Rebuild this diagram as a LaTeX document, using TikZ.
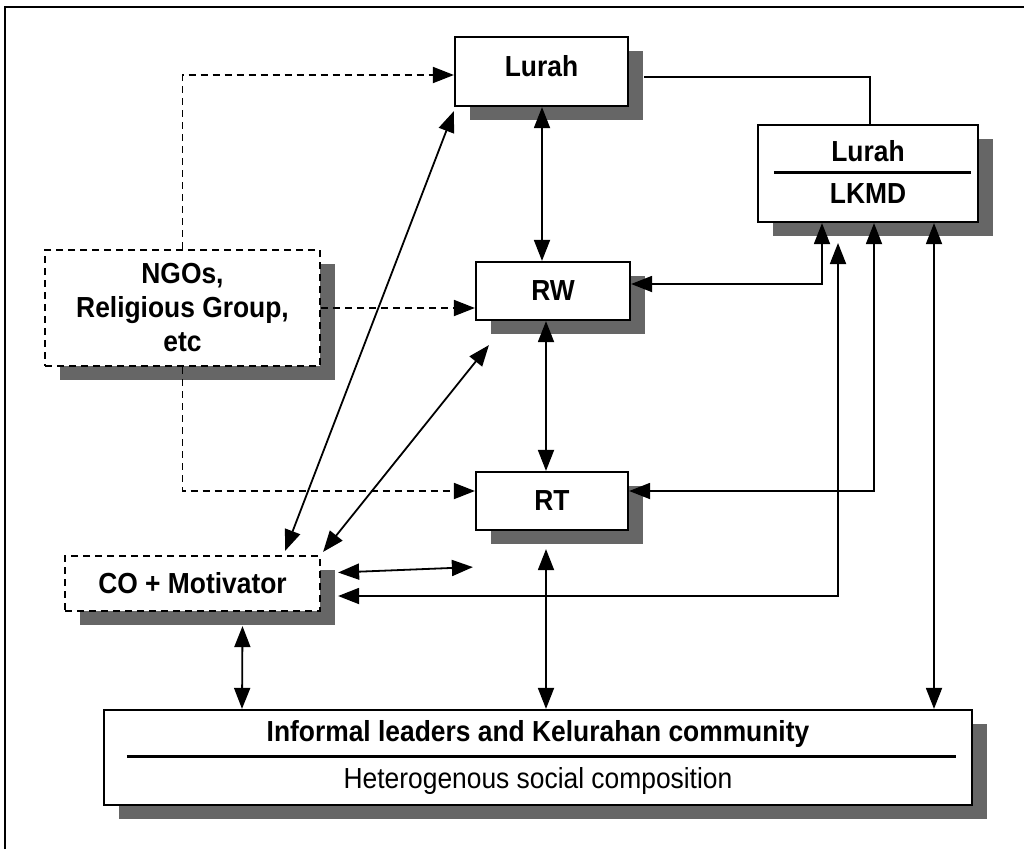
\documentclass[tikz,border=0pt]{standalone}
\usepackage{fontspec}
\setmainfont{Liberation Sans}[FakeStretch=0.91]
\usetikzlibrary{arrows.meta,shadows,calc}
\begin{document}
\begin{tikzpicture}[x=1pt,y=-1pt,
  lbl/.style={font=\fontsize{29}{34}\selectfont\bfseries, inner sep=0pt},
  box/.style={draw, line width=2.2pt, fill=white, inner sep=0pt,
    general shadow={fill=black!60, shadow xshift=15pt, shadow yshift=-14pt}},
  dbox/.style={box, dash pattern=on 7pt off 5pt},
  link/.style={line width=1.8pt},
  dlink/.style={link, dash pattern=on 7pt off 5pt},
  tri/.tip={Triangle[length=21pt,width=16pt]},
  one/.style={-tri},
  two/.style={tri-tri},
]
\fill[white] (0,0) rectangle (1024,849);
\useasboundingbox (0,0) rectangle (1024,849);

% outer frame
\draw[line width=1.6pt] (5,849) -- (5,7) -- (1024,7);

% boxes
\node[box, minimum width=173pt, minimum height=69pt] (lurah) at (541.5,71.5) {};
\node[lbl] (lurahT) at (541.5,66) {Lurah};
\node[box, minimum width=220pt, minimum height=97pt] (lkmd) at (868,173.5) {};
\node[lbl] (lkmdA) at (868,151) {Lurah};
\node[lbl] (lkmdB) at (868,194) {LKMD};
\draw[line width=2.8pt] ($(lkmd.west)+(17,-1)$) -- ($(lkmd.east)+(-8,-1)$);

\node[dbox, lbl, align=center, minimum width=275pt, minimum height=116pt] (ngo) at (182.5,308) {NGOs,\\Religious Group,\\etc};
\node[box, lbl, minimum width=154pt, minimum height=58pt] (rw) at (553,291) {RW};
\node[box, lbl, minimum width=152pt, minimum height=58pt] (rt) at (552,501) {RT};
\node[dbox, lbl, minimum width=255pt, minimum height=55pt] (co) at (192.5,583.5) {CO + Motivator};

\node[box, minimum width=868pt, minimum height=95pt] (comm) at (538,757.5) {};
\node[lbl] (commA) at (538,734) {Informal leaders and Kelurahan community};
\node[font=\fontsize{29}{34}\selectfont, inner sep=0pt] (commB) at (538,781) {Heterogenous social composition};
\draw[line width=2.8pt] ($(comm.west)+(24,-1)$) -- ($(comm.east)+(-17,-1)$);

% dashed links from the NGO box
\draw[dlink, one] (ngo.north) |- (lurah.west |- 0,75);
\draw[dlink, one] (ngo.east |- 0,308) -- (rw.west |- 0,308);
\draw[dlink, one] (ngo.south) |- (rt.west |- 0,491);

% Lurah to the Lurah/LKMD box, starting past the shadow
\draw[link] ($(lurah.east |- 0,77)+(15,0)$) -| (lkmd.north -| 870,0);

% vertical chain
\draw[link, two] (lurah.south -| 542,0) -- (rw.north -| 542,0);
\draw[link, two] ($(rw.south)+(-7,0)$) -- ($(rt.north)+(-6,0)$);
\draw[link, two] ($(comm.north -| rt.south)+(-6,0)$) -- ($(rt.south)+(-6,18)$);

% links to the Lurah/LKMD box
\draw[link, two] (rw.east |- 0,284) -| ($(lkmd.south -| 822,0)$);
\draw[link, two] (rt.east |- 0,491) -| ($(lkmd.south -| 874,0)$);
\coordinate (cotip) at ($(co.east)+(17,12.5)$);
\draw[link, two] (cotip) -| (838,243);
\draw[link, two] (comm.north -| 934,0) -- (lkmd.south -| 934,0);

% links of the CO + Motivator box
\draw[link, two] ($(co.north east)+(-36,-4)$) -- ($(lurah.south west)+(0,4)$);
\draw[link, two] ($(co.north east)+(2,-3)$) -- ($(rw.south west)+(14,24)$);
\draw[link, two] ($(co.east)+(17,-11)$) -- ($(rt.south west)+(-2,36)$);
\draw[link, two] ($(co.south)+(50,14)$) -- (comm.north -| 242,0);
\end{tikzpicture}
\end{document}
